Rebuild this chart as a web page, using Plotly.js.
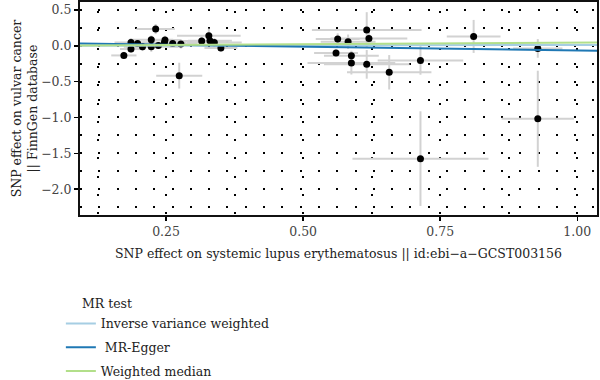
<!DOCTYPE html>
<html>
<head>
<meta charset="utf-8">
<script src="https://cdn.plot.ly/plotly-3.0.1.min.js"></script>
<style>html,body{margin:0;padding:0;background:#fff;}#chart{width:600px;height:380px;}</style>
</head>
<body>
<div id="chart"></div>
<script>
// SNP effects (exposure x, outcome y) and standard errors
const snpX   = [0.173,0.186,0.186,0.198,0.207,0.223,0.223,0.231,0.236,0.247,0.248,0.262,0.274,0.277,0.315,0.328,0.330,0.338,0.350,0.560,0.563,0.582,0.588,0.588,0.616,0.616,0.620,0.657,0.714,0.714,0.811,0.928,0.928];
const snpY   = [-0.135,0.046,-0.046,0.032,-0.014,0.083,-0.014,0.232,0.004,0.046,0.079,0.032,-0.417,0.023,0.065,0.139,0.069,0.046,-0.032,-0.102,0.093,0.056,-0.139,-0.241,0.218,-0.259,0.102,-0.370,-0.204,-1.574,0.130,-0.037,-1.018];
const snpXse = [0.023,0.030,0.020,0.030,0.030,0.040,0.050,0.035,0.030,0.040,0.030,0.040,0.042,0.030,0.050,0.058,0.040,0.050,0.030,0.040,0.040,0.050,0.050,0.080,0.100,0.078,0.070,0.077,0.078,0.124,0.049,0.045,0.066];
const snpYse = [0.050,0.060,0.050,0.050,0.060,0.060,0.070,0.070,0.050,0.060,0.060,0.050,0.180,0.060,0.070,0.100,0.070,0.060,0.050,0.050,0.080,0.100,0.070,0.160,0.250,0.200,0.080,0.240,0.200,0.660,0.230,0.130,0.670];

// MR methods
const methods    = ["Inverse variance weighted","MR-Egger","Weighted median"];
const methodName = ["Inverse variance weighted"," MR-Egger","Weighted median"];
const slopes     = [0.010,-0.107,0.044];
const intercepts = [0.000,0.042,0.000];
const colors     = ["#a6cee3","#1f78b4","#b2df8a"];

const xRange = [0.093,1.036];
const yRange = [-2.36,0.61];

const font = "DejaVu Serif";
const fs = 12.5;

const traces = [{
  type:"scatter", mode:"markers", x:snpX, y:snpY, showlegend:false,
  marker:{color:"#000", size:7},
  error_x:{type:"data", array:snpXse, color:"#d2d2d2", thickness:2, width:0},
  error_y:{type:"data", array:snpYse, color:"#d2d2d2", thickness:2, width:0},
  hoverinfo:"x+y"
}];
methods.forEach((m,i)=>{
  traces.push({
    type:"scatter", mode:"lines", name:methodName[i], legendgroup:"g"+i,
    x:xRange, y:xRange.map(v=>intercepts[i]+slopes[i]*v),
    line:{color:colors[i], width:2}
  });
});

const layout = {
  width:600, height:380,
  margin:{l:80, r:3, t:2, b:165, autoexpand:false},
  paper_bgcolor:"#fff", plot_bgcolor:"#fff",
  font:{family:font, size:fs, color:"#333"},
  showlegend:true,
  xaxis:{
    range:xRange, tickvals:[0.25,0.5,0.75,1.0], ticktext:["0.25","0.50","0.75","1.00"],
    ticks:"outside", ticklen:4, tickwidth:1.5, tickcolor:"#000",
    showline:true, linecolor:"#111", linewidth:2, mirror:true,
    showgrid:true, gridcolor:"#000", gridwidth:2, griddash:"0px,9px,2px,7.3px",
    minor:{dtick:0.125, tick0:0, showgrid:true, gridcolor:"#000", gridwidth:2, griddash:"0px,9px,2px,7.3px"},
    zeroline:false, tickfont:{family:font, size:fs, color:"#444"},
    title:{text:"SNP effect on systemic lupus erythematosus || id:ebi\u2212a\u2212GCST003156", font:{family:font, size:fs, color:"#222"}, standoff:11}
  },
  yaxis:{
    range:yRange, tickvals:[0.5,0,-0.5,-1,-1.5,-2], ticktext:["0.5","0.0","\u22120.5","\u22121.0","\u22121.5","\u22122.0"],
    ticks:"outside", ticklen:4, tickwidth:1.5, tickcolor:"#000",
    showline:true, linecolor:"#111", linewidth:2, mirror:true,
    showgrid:true, gridcolor:"#000", gridwidth:2, griddash:"2px,16.3px",
    minor:{dtick:0.25, tick0:0, showgrid:true, gridcolor:"#000", gridwidth:2, griddash:"2px,16.3px"},
    zeroline:false, tickfont:{family:font, size:fs, color:"#444"},
    title:{text:"SNP effect on vulvar cancer<br>|| FinnGen database", font:{family:font, size:fs, color:"#222"}, standoff:1}
  },
  legend:{
    x:-0.037, xanchor:"left", y:-0.441, yanchor:"top",
    font:{family:font, size:fs, color:"#222"}, bgcolor:"rgba(0,0,0,0)", tracegroupgap:4.5
  },
  annotations:[{
    xref:"paper", yref:"paper", x:0, y:-0.415, xanchor:"left", yanchor:"middle",
    text:"MR test", showarrow:false, font:{family:font, size:fs, color:"#222"}
  }]
};

Plotly.newPlot("chart", traces, layout, {staticPlot:true});
</script>
</body>
</html>
